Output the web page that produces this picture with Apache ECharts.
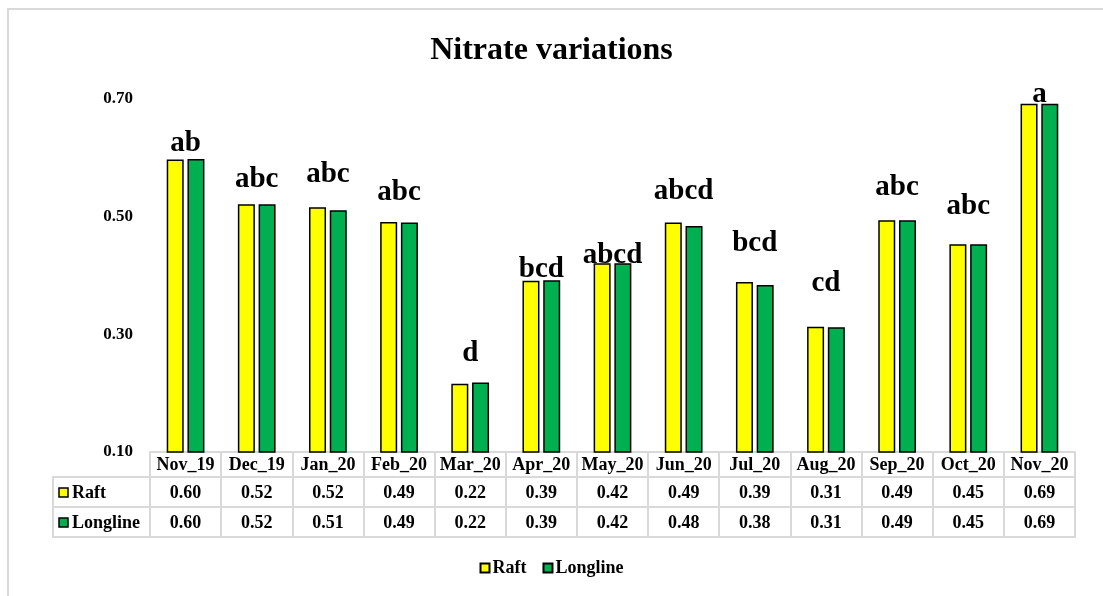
<!DOCTYPE html>
<html>
<head>
<meta charset="utf-8">
<script src="https://cdn.jsdelivr.net/npm/echarts@6/dist/echarts.min.js"></script>
<style>
  html, body { margin: 0; padding: 0; background: #fff; }
  #chart { width: 1103px; height: 596px; }
</style>
</head>
<body>
<div id="chart"></div>
<script>
// data
const months = ['Nov_19', 'Dec_19', 'Jan_20', 'Feb_20', 'Mar_20', 'Apr_20', 'May_20',
  'Jun_20', 'Jul_20', 'Aug_20', 'Sep_20', 'Oct_20', 'Nov_20'];
const raft = [0.597, 0.521, 0.516, 0.491, 0.216, 0.391, 0.421, 0.490, 0.389, 0.313, 0.494, 0.453, 0.692];
const longline = [0.598, 0.521, 0.511, 0.490, 0.218, 0.392, 0.421, 0.484, 0.384, 0.312, 0.494, 0.453, 0.692];
// significance letters and the level (in mg/L units) where each sits
const letters = ['ab', 'abc', 'abc', 'abc', 'd', 'bcd', 'abcd', 'abcd', 'bcd', 'cd', 'abc', 'abc', 'a'];
const letterLevel = [0.624, 0.563, 0.571, 0.541, 0.267, 0.410, 0.434, 0.542, 0.454, 0.386, 0.549, 0.517, 0.708];
const yTicks = { min: 0.1, max: 0.7, step: 0.2 };

const FONT = "'Liberation Serif', 'Times New Roman', serif";
const GRID_COLOR = '#d9d9d9';
const YELLOW = '#ffff00';
const GREEN = '#00b050';

const chart = echarts.init(document.getElementById('chart'));

const gLeft = 150, gRight = 28, gTop = 99, gBottom = 144;
const rowH = [25, 30, 30];
const tableTop = 596 - gBottom;

function tableAxis(offset, tickLen, labels, margin) {
  return {
    type: 'category',
    data: months,
    position: 'bottom',
    offset: offset,
    axisLine: { show: true, lineStyle: { color: GRID_COLOR, width: 2 } },
    axisTick: { show: tickLen > 0, length: tickLen, interval: 0, lineStyle: { color: GRID_COLOR, width: 2 } },
    axisLabel: {
      show: !!labels,
      interval: 0,
      margin: margin,
      fontFamily: FONT,
      fontWeight: 'bold',
      fontSize: 18,
      color: '#000',
      formatter: (v, i) => labels ? labels(v, i) : ''
    },
    splitLine: { show: false }
  };
}

const keyRow = (name, color, y) => [
  {
    type: 'rect',
    shape: { x: 59, y: y - 4, width: 9, height: 9 },
    style: { fill: color, stroke: '#000', lineWidth: 1.5 }
  },
  {
    type: 'text',
    x: 72, y: y + 1,
    style: { text: name, font: 'bold 18px ' + FONT, fill: '#000', textVerticalAlign: 'middle' }
  }
];

const option = {
  animation: false,
  title: {
    text: 'Nitrate variations',
    left: 'center',
    top: 30,
    textStyle: { fontFamily: FONT, fontWeight: 'bold', fontSize: 32, color: '#000' }
  },
  legend: {
    data: ['Raft', 'Longline'],
    bottom: 14,
    left: 'center',
    icon: 'rect',
    itemWidth: 9,
    itemHeight: 9,
    itemGap: 16,
    textStyle: { fontFamily: FONT, fontWeight: 'bold', fontSize: 18, color: '#000', padding: [0, 0, 0, -2] }
  },
  grid: { left: gLeft, right: gRight, top: gTop, bottom: gBottom, containLabel: false },
  xAxis: [
    tableAxis(0, rowH[0], (v) => v, 4),
    tableAxis(rowH[0], rowH[1], (v, i) => raft[i].toFixed(2), 7),
    tableAxis(rowH[0] + rowH[1], rowH[2], (v, i) => longline[i].toFixed(2), 7),
    tableAxis(rowH[0] + rowH[1] + rowH[2], 0, null, 0)
  ],
  yAxis: {
    type: 'value',
    min: yTicks.min,
    max: yTicks.max,
    interval: yTicks.step,
    axisLine: { show: false },
    axisTick: { show: false },
    splitLine: { show: false },
    axisLabel: {
      margin: 17,
      fontFamily: FONT,
      fontWeight: 'bold',
      fontSize: 17,
      color: '#000',
      formatter: (v) => v.toFixed(2)
    }
  },
  series: [
    {
      name: 'Raft',
      type: 'bar',
      data: raft,
      barWidth: 17,
      barGap: '22%',
      itemStyle: { color: YELLOW, borderColor: '#000', borderWidth: 1.5 }
    },
    {
      name: 'Longline',
      type: 'bar',
      data: longline,
      barWidth: 17,
      barGap: '22%',
      itemStyle: { color: GREEN, borderColor: '#000', borderWidth: 1.5 }
    },
    {
      name: 'letters',
      type: 'scatter',
      data: letterLevel,
      symbolSize: 0,
      clip: false,
      silent: true,
      label: {
        show: true,
        position: 'inside',
        fontFamily: FONT,
        fontWeight: 'bold',
        fontSize: 29,
        color: '#000',
        textBorderWidth: 0,
        opacity: 1,
        formatter: (p) => letters[p.dataIndex]
      }
    }
  ],
  graphic: [
    {
      type: 'rect',
      shape: { x: 8, y: 9, width: 1300, height: 800 },
      style: { fill: 'none', stroke: GRID_COLOR, lineWidth: 2 },
      silent: true
    },
    {
      type: 'rect',
      shape: { x: 53, y: tableTop + rowH[0], width: gLeft - 53, height: rowH[1] + rowH[2] },
      style: { fill: 'none', stroke: GRID_COLOR, lineWidth: 2 }
    },
    {
      type: 'line',
      shape: { x1: 53, y1: tableTop + rowH[0] + rowH[1], x2: gLeft, y2: tableTop + rowH[0] + rowH[1] },
      style: { stroke: GRID_COLOR, lineWidth: 2 }
    },
    ...keyRow('Raft', YELLOW, tableTop + rowH[0] + rowH[1] / 2),
    ...keyRow('Longline', GREEN, tableTop + rowH[0] + rowH[1] + rowH[2] / 2)
  ]
};

chart.setOption(option);
</script>
</body>
</html>
